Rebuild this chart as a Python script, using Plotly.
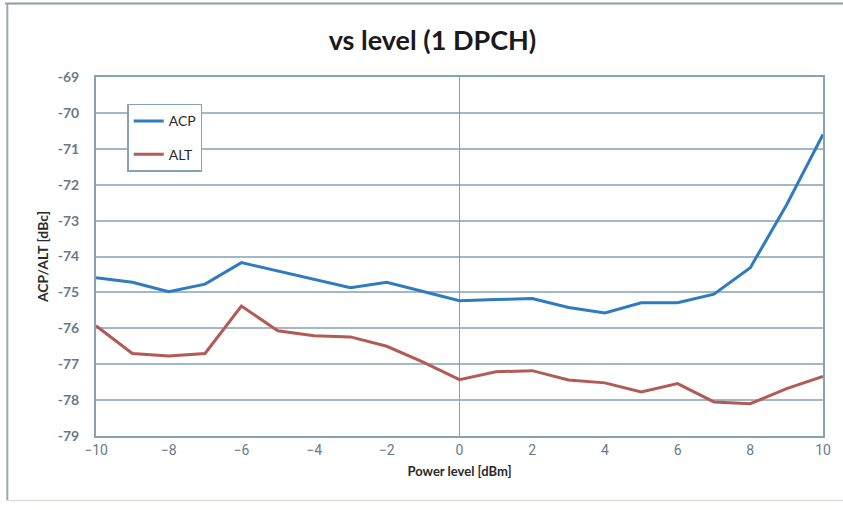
import plotly.graph_objects as go

power_level = [-10, -9, -8, -7, -6, -5, -4, -3, -2, -1, 0, 1, 2, 3, 4, 5, 6, 7, 8, 9, 10]
acp = [-74.59, -74.72, -74.98, -74.77, -74.17, -74.40, -74.65, -74.87, -74.72, -74.98, -75.23,
       -75.20, -75.17, -75.42, -75.57, -75.29, -75.29, -75.05, -74.31, -72.56, -70.60]
alt = [-75.93, -76.70, -76.77, -76.70, -75.38, -76.07, -76.21, -76.24, -76.50, -76.94, -77.43,
       -77.21, -77.18, -77.44, -77.52, -77.77, -77.54, -78.05, -78.10, -77.68, -77.34]
x_ticks = [-10, -8, -6, -4, -2, 0, 2, 4, 6, 8, 10]
y_ticks = [-69, -70, -71, -72, -73, -74, -75, -76, -77, -78, -79]

grid_col = "#A3B8C6"
axis_col = "#86A2B4"
tick_col = "#687A88"

fig = go.Figure()
fig.add_trace(go.Scatter(x=power_level, y=acp, mode="lines", name="ACP", legendgroup="a",
                         line=dict(color="#2F7BBF", width=3)))
fig.add_trace(go.Scatter(x=power_level, y=alt, mode="lines", name="ALT", legendgroup="b",
                         line=dict(color="#B35A55", width=3)))

fig.update_layout(
    width=843, height=510,
    paper_bgcolor="white", plot_bgcolor="white",
    margin=dict(l=96, r=17, t=77, b=74),
    title=dict(text="<b>vs level (1 DPCH)</b>", x=0.513, xanchor="center", y=0.92, yanchor="middle",
               font=dict(family="Lato, Open Sans, sans-serif", size=27, color="#1a1a1a")),
    font=dict(family="Lato, Open Sans, sans-serif"),
    legend=dict(x=0.043, y=0.925, xanchor="left", yanchor="top",
                bgcolor="white", bordercolor=axis_col, borderwidth=1.5,
                font=dict(size=14, color="#2a2a2a"), tracegroupgap=12,
                itemwidth=30),
    showlegend=True,
)
fig.update_xaxes(
    range=[-10, 10], tickvals=x_ticks, showgrid=False,
    zeroline=True, zerolinecolor=axis_col, zerolinewidth=1.2,
    showline=True, linecolor=axis_col, linewidth=2, mirror=True,
    ticks="", tickfont=dict(size=14, color=tick_col, family="Roboto, sans-serif"),
    title=dict(text="<b>Power level [dBm]</b>", font=dict(size=13, color="#2a2a2a"), standoff=10),
)
fig.update_yaxes(
    range=[-79, -69], tickvals=y_ticks, ticktext=[str(v) for v in y_ticks],
    showgrid=True, gridcolor=grid_col, gridwidth=1.5,
    zeroline=False, showline=True, linecolor=axis_col, linewidth=2, mirror=True,
    ticks="", tickfont=dict(size=14, color=tick_col, family="Lato, sans-serif", weight="bold"),
    ticklabelstandoff=12,
    title=dict(text="<b>ACP/ALT [dBc]</b>", font=dict(size=14, color="#2a2a2a"), standoff=6),
)
# outer frame of the chart image
fig.add_shape(type="line", xref="paper", yref="paper", x0=-0.125, x1=1.03, y0=1.205, y1=1.205,
              line=dict(color="#8A9BA6", width=2))
fig.add_shape(type="line", xref="paper", yref="paper", x0=-0.122, x1=-0.122, y0=-0.18, y1=1.205,
              line=dict(color="#9AAAB4", width=2))
fig.add_shape(type="line", xref="paper", yref="paper", x0=-0.122, x1=1.03, y0=-0.18, y1=-0.18,
              line=dict(color="#E8DCD6", width=1.5))

fig.write_html("out.html", config={"displayModeBar": False},
               post_script="document.body.style.margin='0px';")
